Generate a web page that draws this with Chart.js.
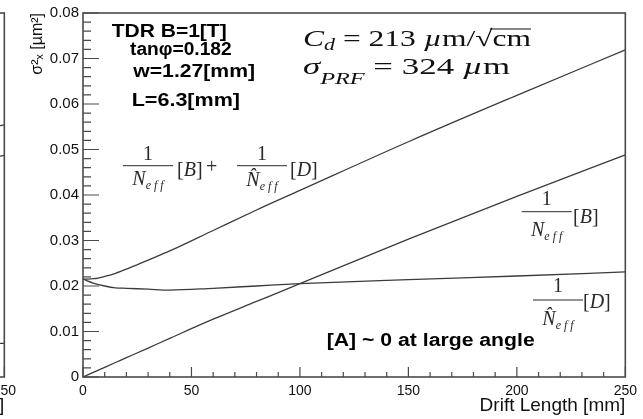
<!DOCTYPE html>
<html>
<head>
<meta charset="utf-8">
<script src="https://cdn.jsdelivr.net/npm/chart.js@4.4.1/dist/chart.umd.min.js"></script>
<style>
html, body { margin: 0; padding: 0; background: #fff; overflow: hidden; }
#wrap { position: relative; width: 643px; height: 419px; overflow: hidden; }
canvas { position: absolute; top: 0; }
</style>
</head>
<body>
<div id="wrap">
  <canvas id="vecino" width="643" height="419" style="left:-621px"></canvas>
  <canvas id="grafico" width="643" height="419" style="left:0"></canvas>
</div>
<script>
// drift length [mm] -> sigma_x^2 [um^2]
const driftLength = [0, 5, 10, 15, 20, 30, 40, 60, 80, 100, 150, 200, 250];
const sumaBD = [0.0215, 0.0216, 0.0221, 0.0228, 0.0237, 0.0257, 0.0277, 0.0322, 0.0367, 0.0410, 0.0517, 0.0619, 0.0719];
const termB  = [0, 0.00106, 0.00212, 0.00318, 0.00424, 0.00636, 0.0085, 0.0127, 0.0166, 0.0205, 0.0303, 0.0397, 0.0488];
const termD  = [0.0215, 0.0206, 0.0200, 0.0196, 0.0195, 0.0193, 0.0191, 0.0195, 0.0200, 0.0205, 0.0214, 0.0222, 0.0231];

const xTicks = [0, 50, 100, 150, 200, 250];
const yTicks = [0, 0.01, 0.02, 0.03, 0.04, 0.05, 0.06, 0.07, 0.08];
const xMinorStep = 10;
const yMinorStep = 0.002;

// only the right edge of the neighbouring pad is visible
const vecinoX = [200, 250];
const vecinoA = [0.0509, 0.0554];
const vecinoB = [0.0442, 0.0487];
const vecinoC = [0.0074, 0.0074];

const SANS = '"Liberation Sans", Arial, sans-serif';
const SERIF = '"Liberation Serif", "DejaVu Serif", serif';
const LINEA = '#3c3c3c';

function serie(xs, ys) {
  return {
    data: xs.map((x, i) => ({ x: x, y: ys[i] })),
    borderColor: LINEA,
    borderWidth: 1.3,
    pointRadius: 0,
    fill: false,
    cubicInterpolationMode: 'monotone'
  };
}

// text drawn left to right in pieces, squeezed/stretched to a given width
function rico(ctx, segs, x, y, ancho, color) {
  ctx.save();
  let total = 0;
  segs.forEach(s => { ctx.font = s.f; s.w = ctx.measureText(s.t).width; total += s.w; });
  const sx = ancho ? ancho / total : 1;
  ctx.translate(x, y);
  ctx.scale(sx, 1);
  ctx.fillStyle = color;
  ctx.strokeStyle = color;
  ctx.textBaseline = 'alphabetic';
  let cx = 0;
  segs.forEach(s => {
    ctx.font = s.f;
    ctx.fillText(s.t, cx, s.dy || 0);
    if (s.over) {
      ctx.lineWidth = 1;
      ctx.beginPath();
      ctx.moveTo(cx - 2, s.over);
      ctx.lineTo(cx + s.w, s.over);
      ctx.stroke();
    }
    cx += s.w;
  });
  ctx.restore();
  return total * sx;
}

function fraccion(ctx, cx, barY, numY, denY, den, lado, ladoX, ladoY) {
  const col = '#2a2a2a';
  ctx.save();
  ctx.fillStyle = col;
  ctx.strokeStyle = col;
  ctx.font = '20px ' + SERIF;
  ctx.textAlign = 'center';
  ctx.fillText('1', cx, numY);
  ctx.lineWidth = 1;
  ctx.beginPath();
  ctx.moveTo(cx - 25, barY);
  ctx.lineTo(cx + 25, barY);
  ctx.stroke();
  ctx.restore();
  const segs = [
    { t: den, f: 'italic 20px ' + SERIF },
    { t: 'e f f', f: 'italic 12px ' + SERIF, dy: 4 }
  ];
  ctx.save();
  let w = 0;
  segs.forEach(s => { ctx.font = s.f; w += ctx.measureText(s.t).width; });
  ctx.restore();
  rico(ctx, segs, cx - w / 2, denY, 0, col);
  rico(ctx, [
    { t: '[', f: '20px ' + SERIF },
    { t: lado, f: 'italic 20px ' + SERIF },
    { t: ']', f: '20px ' + SERIF }
  ], ladoX, ladoY, 0, col);
}

const marco = {
  id: 'marco',
  afterDraw(chart) {
    const { ctx, chartArea: a, scales: { x, y } } = chart;
    ctx.save();
    ctx.strokeStyle = '#4a4a4a';
    ctx.lineWidth = 1.6;
    ctx.strokeRect(a.left, a.top, a.right - a.left, a.bottom - a.top);
    ctx.lineWidth = 1.2;
    ctx.beginPath();
    const nx = Math.round((x.max - x.min) / xMinorStep);
    for (let i = 0; i <= nx; i++) {
      const v = x.min + i * xMinorStep;
      const px = x.getPixelForValue(v);
      const len = xTicks.includes(v) ? 10 : 5;
      ctx.moveTo(px, a.bottom);
      ctx.lineTo(px, a.bottom - len);
    }
    const ny = Math.round((y.max - y.min) / yMinorStep);
    for (let i = 0; i <= ny; i++) {
      const py = y.getPixelForValue(y.min + i * yMinorStep);
      const len = i % 5 === 0 ? 16 : 8;
      ctx.moveTo(a.left, py);
      ctx.lineTo(a.left + len, py);
    }
    ctx.stroke();
    ctx.restore();
  }
};

const textos = {
  id: 'textos',
  afterDraw(chart) {
    const ctx = chart.ctx;
    const b = 'bold 18px ' + SANS;
    rico(ctx, [{ t: 'TDR B=1[T]', f: b }], 111.7, 37, 115, '#000');
    rico(ctx, [{ t: 'tan\u03C6=0.182', f: b }], 130, 55, 101.7, '#000');
    rico(ctx, [{ t: 'w=1.27[mm]', f: b }], 133.3, 77, 121.7, '#000');
    rico(ctx, [{ t: 'L=6.3[mm]', f: b }], 131.7, 106, 108.3, '#000');
    rico(ctx, [{ t: '[A] ~ 0 at large angle', f: b }], 326.7, 346, 208, '#000');

    const m = '23px ' + SERIF, mi = 'italic 23px ' + SERIF;
    rico(ctx, [
      { t: 'C', f: mi },
      { t: 'd', f: 'italic 16px ' + SERIF, dy: 4 },
      { t: ' = 213 ', f: m },
      { t: '\u00B5', f: mi },
      { t: 'm/', f: m },
      { t: '\u221A', f: m },
      { t: 'cm', f: m, over: -17 }
    ], 303, 46, 228, '#111');
    rico(ctx, [
      { t: '\u03C3', f: mi },
      { t: 'PRF', f: 'italic 16px ' + SERIF, dy: 10 },
      { t: ' = 324 ', f: m },
      { t: '\u00B5', f: mi },
      { t: 'm', f: m }
    ], 303, 74, 207, '#111');

    fraccion(ctx, 148, 165.7, 160, 185, 'N', 'B', 177, 176);
    rico(ctx, [{ t: '+', f: '20px ' + SERIF }], 206, 173, 0, '#2a2a2a');
    fraccion(ctx, 262, 165.7, 160, 186, 'N\u0302', 'D', 290, 176);
    fraccion(ctx, 546.7, 211.7, 205, 236, 'N', 'B', 573, 223);
    fraccion(ctx, 558, 300, 292, 325, 'N\u0302', 'D', 583, 308);
  }
};

function configuracion(datasets, plugins) {
  return {
    type: 'line',
    data: { datasets: datasets },
    plugins: plugins,
    options: {
      responsive: false,
      animation: false,
      devicePixelRatio: 1,
      layout: { padding: { left: 0, top: 9, right: 15, bottom: 0 } },
      plugins: { legend: { display: false }, tooltip: { enabled: false } },
      scales: {
        x: {
          type: 'linear',
          min: 0,
          max: 250,
          afterBuildTicks: s => { s.ticks = xTicks.map(v => ({ value: v })); },
          afterFit: s => { s.height = 42; },
          grid: { display: false, drawTicks: false },
          border: { display: false },
          ticks: {
            padding: 6,
            maxRotation: 0,
            color: '#111',
            font: { family: SANS, size: 14 },
            callback: v => String(v)
          },
          title: {
            display: true,
            text: 'Drift Length [mm]',
            align: 'end',
            color: '#111',
            font: { family: SANS, size: 19 },
            padding: { top: 0, bottom: 2 }
          }
        },
        y: {
          type: 'linear',
          min: 0,
          max: 0.08,
          afterBuildTicks: s => { s.ticks = yTicks.map(v => ({ value: v })); },
          afterFit: s => { s.width = 83; },
          grid: { display: false, drawTicks: false },
          border: { display: false },
          ticks: {
            padding: 4,
            color: '#111',
            font: { family: SANS, size: 15 },
            callback: v => (v === 0 ? '0' : v.toFixed(2))
          },
          title: {
            display: true,
            text: '\u03C3\u00B2\u2093 [\u00B5m\u00B2]',
            align: 'end',
            color: '#111',
            font: { family: SANS, size: 16 },
            padding: { top: 28, bottom: 0 }
          }
        }
      }
    }
  };
}

new Chart(document.getElementById('vecino'), configuracion([
  serie(vecinoX, vecinoA),
  serie(vecinoX, vecinoB),
  serie(vecinoX, vecinoC)
], [marco]));

new Chart(document.getElementById('grafico'), configuracion([
  serie(driftLength, sumaBD),
  serie(driftLength, termB),
  serie(driftLength, termD)
], [marco, textos]));
</script>
</body>
</html>
